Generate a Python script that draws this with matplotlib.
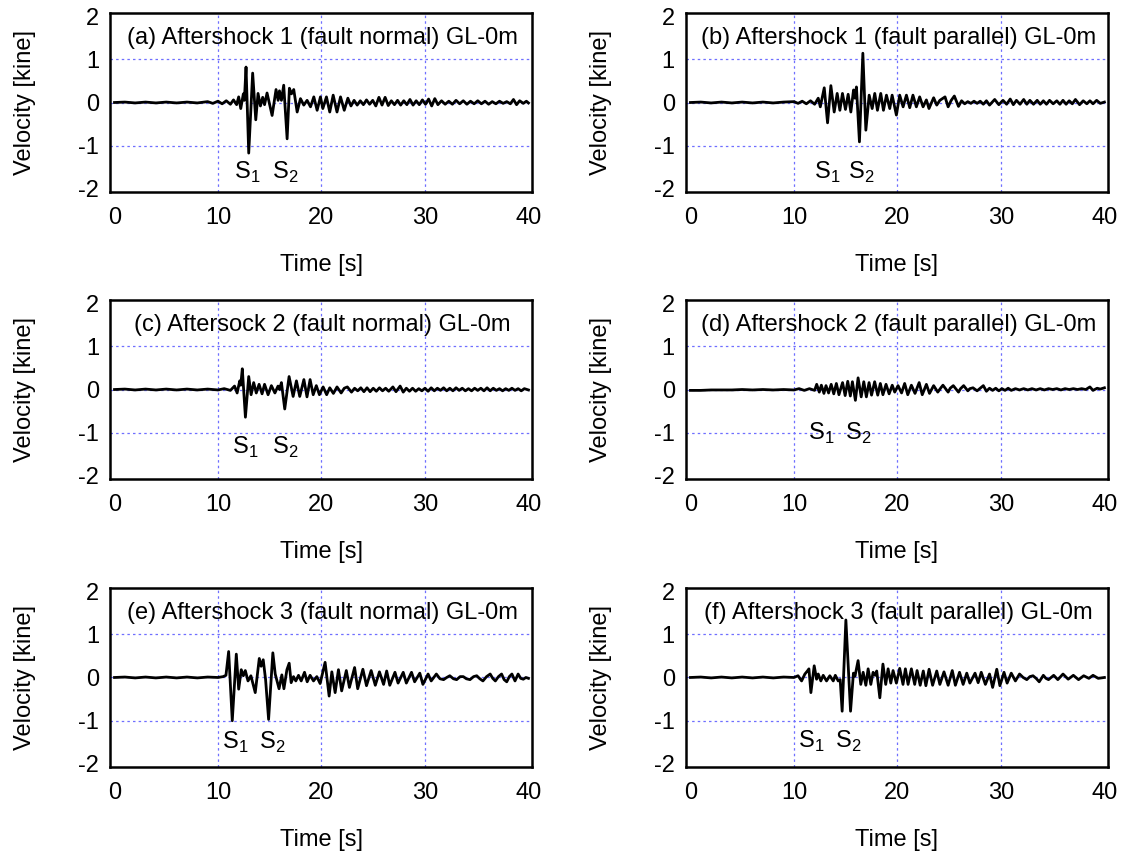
import matplotlib.pyplot as plt

plt.rcParams['font.family'] = ['Liberation Sans', 'DejaVu Sans']
plt.rcParams['mathtext.fontset'] = 'custom'
plt.rcParams['mathtext.rm'] = 'Liberation Sans'
plt.rcParams['axes.unicode_minus'] = False

# panel titles and S1 / S2 label positions (time, velocity)
titles = ['(a) Aftershock 1 (fault normal) GL-0m',
          '(b) Aftershock 1 (fault parallel) GL-0m',
          '(c) Aftersock 2 (fault normal) GL-0m',
          '(d) Aftershock 2 (fault parallel) GL-0m',
          '(e) Aftershock 3 (fault normal) GL-0m',
          '(f) Aftershock 3 (fault parallel) GL-0m']
s1_pos = [(12.8, -1.62), (13.25, -1.62), (12.6, -1.35), (12.65, -1.02), (11.65, -1.5), (11.7, -1.47)]
s2_pos = [(16.5, -1.62), (16.5, -1.62), (16.5, -1.35), (16.2, -1.02), (15.2, -1.5), (15.25, -1.47)]

# velocity records (time [s], velocity [kine])
t_a = [0, 1, 2, 3, 4, 5, 6, 7, 8, 9, 9.5, 10.0, 10.4, 10.8, 11.2, 11.5, 11.8, 12.0, 12.2, 12.45, 12.55,
       12.71, 12.97, 13.35, 13.65, 13.87, 14.10, 14.32, 14.50, 14.74, 15.23, 15.61, 15.81, 15.94, 16.13,
       16.35, 16.68, 16.90, 17.10, 17.32, 17.65, 17.97, 18.29, 18.61, 18.94, 19.26, 19.58, 19.90,
       20.13, 20.48, 20.80, 21.13, 21.50, 21.84, 22.20, 22.55, 22.85, 23.15, 23.45, 23.75, 24.05, 24.35,
       24.65, 24.95, 25.25, 25.55, 25.85, 26.15, 26.45, 26.75, 27.05, 27.35, 27.65, 27.95, 28.25, 28.55,
       28.85, 29.15, 29.45, 29.75, 30.05, 30.35, 30.65, 30.95, 31.25, 31.6, 31.95, 32.3, 32.65, 33.0,
       33.35, 33.7, 34.05, 34.4, 34.75, 35.1, 35.45, 35.8, 36.15, 36.5, 36.85, 37.2, 37.55, 37.9, 38.25,
       38.55, 38.85, 39.15, 39.5, 39.8, 40.0]
v_a = [0, 0.01, -0.01, 0.01, -0.01, 0.01, -0.01, 0.01, -0.01, 0.02, -0.02, 0.03, -0.03, 0.04, -0.04, 0.06,
       -0.05, 0.13, -0.14, 0.20, 0.05,
       0.82, -1.17, 0.68, -0.40, 0.21, -0.08, 0.12, -0.05, 0.22, -0.30, 0.30, 0.05, 0.27, 0.05,
       0.40, -0.84, 0.33, 0.20, 0.30, -0.22, 0.09, -0.06, 0.05, -0.10, 0.13, -0.18, 0.13,
       -0.14, 0.13, -0.22, 0.17, -0.22, 0.13, -0.18, 0.10, -0.08, 0.05, -0.06, 0.04, -0.05, 0.06,
       -0.04, 0.05, -0.08, 0.12, -0.06, 0.12, -0.07, 0.04, -0.05, 0.05, -0.06, 0.04, -0.05, 0.07,
       -0.06, 0.04, -0.05, 0.06, -0.04, 0.08, -0.08, 0.09, -0.05, 0.04, -0.04, 0.03, -0.04, 0.05,
       -0.03, 0.04, -0.04, 0.03, -0.03, 0.04, -0.03, 0.03, -0.04, 0.02, -0.03, 0.03, -0.02, 0.02, -0.03,
       0.07, -0.05, 0.04, -0.02, 0.03, -0.01]

t_b = [0, 1, 2, 3, 4, 5, 6, 7, 8, 9, 10.0, 10.4, 10.8, 11.2, 11.6, 12.0, 12.35, 12.55, 12.93, 13.25,
       13.57, 13.89, 14.18, 14.44, 14.69, 14.98, 15.24, 15.5, 15.76, 15.9, 16.04, 16.33, 16.66, 16.95,
       17.27, 17.56, 17.81, 18.07, 18.39, 18.65, 18.94, 19.26, 19.49, 19.9, 20.22, 20.55, 20.87, 21.19,
       21.5, 21.83, 22.15, 22.48, 22.8, 23.05, 23.5, 23.8, 24.1, 24.6, 24.9, 25.2, 25.5, 25.9, 26.2,
       26.5, 26.8, 27.1, 27.4, 27.7, 28.0, 28.3, 28.6, 28.9, 29.4, 29.8, 30.2, 30.55, 30.9, 31.2, 31.5,
       31.85, 32.2, 32.5, 32.8, 33.15, 33.5, 33.8, 34.1, 34.4, 34.7, 35.05, 35.4, 35.7, 36.0, 36.3, 36.6,
       36.9, 37.2, 37.6, 37.95, 38.3, 38.6, 38.9, 39.25, 39.6, 40.0]
v_b = [0, 0.01, -0.01, 0.01, -0.01, 0.01, -0.01, 0.01, -0.01, 0.01, 0.02, -0.02, 0.03, -0.03, 0.04, -0.04,
       0.10, -0.10, 0.34, -0.47,
       0.39, -0.22, 0.21, -0.18, 0.21, -0.16, 0.19, -0.22, 0.29, 0.10, 0.36, -0.91, 1.14, -0.64,
       0.17, -0.14, 0.21, -0.18, 0.21, -0.18, 0.17, -0.14, 0.17, -0.29, 0.17, -0.10, 0.17, -0.12,
       0.17, -0.10, 0.13, -0.10, 0.06, -0.14, 0.11, -0.06, 0.05, 0.13, -0.10, 0.05, 0.15, -0.09, 0.04,
       -0.03, 0.02, -0.02, 0.03, -0.02, 0.03, -0.04, 0.04, -0.06, 0.07, -0.05, 0.05, -0.04, 0.08, -0.05,
       0.05, -0.04, 0.07, -0.04, 0.05, -0.04, 0.05, -0.04, 0.04, -0.04, 0.05, -0.03, 0.04, -0.04, 0.05, -0.04,
       0.04, -0.03, 0.07, -0.05, 0.04, -0.03, 0.04, -0.03, 0.05, -0.02, 0.01]

t_c = [0, 1, 2, 3, 4, 5, 6, 7, 8, 9, 10, 10.6, 11.2, 11.6, 11.85, 12.1, 12.2, 12.35, 12.65, 12.97, 13.2,
       13.45, 13.7, 13.97, 14.26, 14.5, 14.84, 15.16, 15.5, 15.8, 15.95, 16.13, 16.45, 16.87, 17.26,
       17.58, 17.9, 18.3, 18.6, 18.9, 19.2, 19.5, 19.8, 20.16, 20.5, 20.8, 21.15, 21.5, 21.9, 22.2, 22.5,
       22.9, 23.2, 23.5, 23.8, 24.1, 24.4, 24.7, 25.0, 25.3, 25.6, 25.9, 26.2, 26.5, 26.9, 27.2, 27.6,
       27.9, 28.2, 28.5, 28.8, 29.1, 29.4, 29.7, 30.0, 30.3, 30.6, 30.9, 31.2, 31.5, 31.8, 32.1, 32.4,
       32.7, 33.0, 33.3, 33.6, 33.9, 34.2, 34.5, 34.8, 35.1, 35.4, 35.7, 36.0, 36.3, 36.6, 36.9, 37.2,
       37.5, 37.8, 38.1, 38.4, 38.7, 39.0, 39.3, 39.6, 40.0]
v_c = [0, 0.01, -0.01, 0.01, -0.01, 0.01, -0.01, 0.01, -0.01, 0.01, -0.01, 0.02, -0.02, 0.08, -0.08, 0.20,
       0.10, 0.48, -0.64, 0.30, -0.12,
       0.16, -0.08, 0.12, -0.10, 0.12, -0.12, 0.09, -0.08, 0.08, 0.0, 0.16, -0.45, 0.30, -0.16,
       0.20, -0.16, 0.23, -0.17, 0.23, -0.12, 0.09, -0.12, 0.06, -0.12, 0.04, -0.09, 0.06, -0.08, 0.03, 0.06,
       -0.06, 0.03, -0.03, 0.04, -0.05, 0.04, -0.05, 0.03, -0.04, 0.04, -0.03, 0.03, -0.04, 0.06, -0.05, 0.08,
       -0.06, 0.03, -0.04, 0.03, -0.04, 0.02, -0.03, 0.03, -0.04, 0.04, -0.03, 0.03, -0.02, 0.04, -0.03, 0.03,
       -0.03, 0.04, -0.02, 0.03, -0.03, 0.02, -0.03, 0.03, -0.02, 0.03, -0.03, 0.04, -0.03, 0.03, -0.02, 0.02,
       -0.03, 0.02, -0.02, 0.03, -0.02, 0.02, -0.03, 0.02, -0.01]

t_d = [0, 1, 2, 3, 4, 5, 6, 7, 8, 9, 10, 10.5, 11.0, 11.5, 12.0, 12.2, 12.45, 12.65, 12.9, 13.1, 13.35,
       13.6, 13.85, 14.1, 14.35, 14.7, 14.95, 15.2, 15.45, 15.65, 15.94, 16.2, 16.5, 16.75, 17.0, 17.26,
       17.5, 17.8, 18.1, 18.35, 18.6, 18.9, 19.2, 19.5, 19.74, 20.06, 20.4, 20.7, 21.0, 21.35, 21.7, 22.1,
       22.4, 22.8, 23.1, 23.5, 23.9, 24.2, 24.4, 24.9, 25.1, 25.4, 25.9, 26.1, 26.4, 26.8, 27.0, 27.3,
       27.7, 28.0, 28.3, 28.6, 28.9, 29.2, 29.5, 29.8, 30.1, 30.4, 30.7, 31.0, 31.4, 31.8, 32.2, 32.6,
       33.0, 33.4, 33.8, 34.2, 34.6, 35.0, 35.4, 35.8, 36.2, 36.6, 37.0, 37.4, 37.8, 38.2, 38.6, 38.9,
       39.3, 39.6, 40.0]
v_d = [-0.02, -0.02, -0.01, -0.01, -0.01, 0.0, -0.01, 0.0, -0.01, 0.0, -0.01, 0.02, -0.02, 0.02, -0.02,
       0.12, -0.06, 0.10, -0.09, 0.09, -0.08,
       0.12, -0.10, 0.14, -0.12, 0.16, -0.14, 0.19, -0.15, 0.18, -0.25, 0.27, -0.17, 0.18, -0.17, 0.16,
       -0.13, 0.18, -0.13, 0.14, -0.12, 0.12, -0.10, 0.10, -0.06, 0.09, -0.08, 0.14, -0.12, 0.10, -0.09, 0.16,
       -0.12, 0.12, -0.09, 0.09, -0.06, 0.04, 0.10, -0.06, 0.03, 0.09, -0.06, 0.02, 0.09, -0.03, 0.02, 0.04,
       -0.03, 0.03, 0.09, -0.04, 0.03, -0.02, 0.03, -0.03, 0.02, -0.02, 0.03, -0.02, 0.02, -0.01, 0.02, -0.01,
       0.02, -0.01, 0.02, -0.01, 0.02, 0.0, 0.02, -0.01, 0.02, 0.0, 0.02, 0.0, 0.02, 0.0, 0.06, -0.02,
       0.03, 0.01, 0.04]

t_e = [0, 1, 2, 3, 4, 5, 6, 7, 8, 9, 10.0, 10.5, 10.77, 11.03, 11.38, 11.77, 12.0, 12.25, 12.45, 12.64,
       12.9, 13.18, 13.6, 13.99, 14.17, 14.37, 14.6, 14.89, 15.3, 15.53, 15.9, 16.17, 16.37, 16.66,
       16.88, 17.07, 17.3, 17.52, 17.78, 18.04, 18.36, 18.62, 18.9, 19.23, 19.55, 19.87, 20.35, 20.74,
       21.0, 21.32, 21.64, 21.95, 22.4, 22.7, 23.2, 23.5, 24.0, 24.35, 24.8, 25.2, 25.6, 26.0, 26.3, 26.6,
       27.1, 27.4, 27.9, 28.2, 28.7, 29.0, 29.5, 29.8, 30.3, 30.6, 31.1, 31.45, 31.8, 32.1, 32.4, 32.75,
       33.06, 33.4, 33.7, 34.0, 34.35, 34.7, 35.0, 35.3, 35.6, 35.95, 36.3, 36.55, 36.8, 37.1, 37.4, 37.65,
       37.9, 38.15, 38.4, 38.7, 39.0, 39.25, 39.5, 39.75, 40.0]
v_e = [0, 0.01, -0.01, 0.01, -0.01, 0.01, -0.01, 0.01, -0.01, 0.01, 0.0, 0.02, 0.05, 0.60, -1.00, 0.54,
       -0.27, 0.18, 0.04, 0.16,
       -0.08, 0.04, -0.35, 0.44, 0.26, 0.41, -0.05, -0.97, 0.57, 0.08, -0.26, 0.06, -0.26, 0.18,
       0.33, -0.12, 0.02, -0.08, 0.05, -0.08, 0.12, -0.10, 0.05, -0.08, 0.02, -0.14, 0.35, -0.43,
       0.13, -0.35, 0.18, -0.31, 0.16, -0.23, 0.23, -0.26, 0.19, -0.19, 0.16, -0.18, 0.13, -0.16, 0.15, -0.18,
       0.12, -0.13, 0.12, -0.13, 0.12, -0.10, 0.10, -0.16, 0.08, -0.08, 0.08, -0.03, -0.05, 0.0, 0.04, -0.03,
       -0.05, 0.02, 0.02, -0.03, -0.05, 0.02, 0.04, -0.03, -0.08, 0.02, 0.08, -0.02, -0.08, 0.02, 0.08, -0.05,
       -0.10, 0.02, 0.08, -0.08, 0.08, -0.02, -0.04, 0.0, -0.02]

t_f = [0, 1, 2, 3, 4, 5, 6, 7, 8, 9, 10.0, 10.4, 10.74, 11.06, 11.3, 11.45, 11.64, 11.96, 12.19, 12.35,
       12.6, 12.83, 13.15, 13.47, 13.8, 14.0, 14.28, 14.47, 14.66, 15.02, 15.47, 15.75, 15.9, 16.2,
       16.46, 16.69, 16.95, 17.17, 17.43, 17.65, 17.85, 18.0, 18.3, 18.6, 18.87, 19.1, 19.36, 19.58,
       19.9, 20.22, 20.54, 20.77, 21.03, 21.35, 21.67, 21.9, 22.2, 22.5, 22.75, 23.06, 23.4, 23.8, 24.1,
       24.5, 24.9, 25.3, 25.6, 26.0, 26.35, 26.7, 27.0, 27.5, 27.8, 28.1, 28.5, 28.9, 29.2, 29.6, 29.9,
       30.3, 30.6, 31.0, 31.4, 31.8, 32.15, 32.5, 32.8, 33.1, 33.4, 33.7, 34.1, 34.35, 34.6, 35.1, 35.5,
       36.0, 36.5, 37.0, 37.5, 38.0, 38.5, 38.9, 39.4, 40.0]
v_f = [0, 0.01, -0.01, 0.01, -0.01, 0.01, -0.01, 0.01, -0.01, 0.01, 0.0, 0.04, -0.08, 0.08, 0.15, 0.20,
       -0.35, 0.27, -0.04, 0.08,
       -0.08, 0.05, -0.08, 0.04, -0.08, 0.05, -0.08, -0.05, -0.78, 1.33, -0.78, 0.10, 0.03, 0.39,
       -0.16, 0.12, -0.18, 0.20, -0.16, 0.12, 0.05, 0.15, -0.47, 0.31, -0.16, 0.20, -0.13, 0.16,
       -0.13, 0.21, -0.16, 0.20, -0.16, 0.20, -0.16, 0.16, -0.18, 0.15, -0.19, 0.19, -0.18, 0.15, -0.16,
       0.13, -0.18, 0.16, -0.18, 0.12, -0.16, 0.10, -0.13, 0.10, -0.12, 0.12, -0.16, 0.08, -0.23, 0.19, -0.19,
       0.12, -0.13, 0.10, -0.08, 0.08, 0.0, -0.05, 0.02, 0.04, -0.02, -0.10, 0.05, -0.02, -0.05, 0.05, -0.05,
       0.08, -0.04, 0.05, -0.05, 0.04, -0.02, 0.05, -0.02, 0.0]

times = [t_a, t_b, t_c, t_d, t_e, t_f]
vels = [v_a, v_b, v_c, v_d, v_e, v_f]

fig = plt.figure(figsize=(11.24, 8.56), dpi=100)
lefts = [0.0979, 0.6103]
bottoms = [0.7757, 0.4404, 0.1040]
grid_color = '#6f6fff'
fs = 17

for i in range(6):
    ax = fig.add_axes([lefts[i % 2], bottoms[i // 2], 0.3754, 0.2091])
    for gx in [10, 20, 30]:
        ax.axvline(gx, color=grid_color, lw=0.9, ls=(0, (2, 2.5)), zorder=1)
    for gy in [-1, 0, 1]:
        ax.axhline(gy, color=grid_color, lw=0.9, ls=(0, (2, 2.5)), zorder=1)
    ax.plot(times[i], vels[i], color='black', lw=2.0, zorder=3)
    ax.set_xlim(-0.43, 40.34)
    ax.set_ylim(-2.07, 2.07)
    ax.set_xticks([0, 10, 20, 30, 40])
    ax.set_yticks([-2, -1, 0, 1, 2])
    ax.tick_params(length=0, labelsize=fs)
    ax.tick_params(axis='x', pad=11)
    ax.tick_params(axis='y', pad=8)
    for sp in ax.spines.values():
        sp.set_linewidth(1.8)
    ax.set_xlabel('Time [s]', fontsize=fs)
    ax.set_ylabel('Velocity [kine]', fontsize=fs)
    ax.xaxis.set_label_coords(0.5, -0.41)
    ax.xaxis.label.set_va('center')
    ax.yaxis.set_label_coords(-0.201, 0.5)
    ax.yaxis.label.set_va('center')
    ax.text(20.1, 1.5, titles[i], ha='center', va='center', fontsize=fs, zorder=4)
    ax.text(s1_pos[i][0], s1_pos[i][1], r'S$_1$', ha='center', va='center', fontsize=fs, zorder=4)
    ax.text(s2_pos[i][0], s2_pos[i][1], r'S$_2$', ha='center', va='center', fontsize=fs, zorder=4)

plt.savefig('out.png', dpi=100)
